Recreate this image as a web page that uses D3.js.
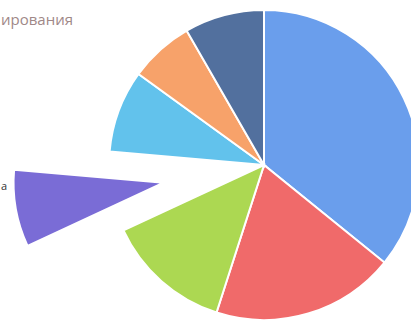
<!DOCTYPE html>
<html><head><meta charset="utf-8">
<script src="https://cdn.jsdelivr.net/npm/d3@7"></script>
<style>html,body{margin:0;padding:0;background:#fff;overflow:hidden}</style>
</head><body>
<svg id="c" width="411" height="322"></svg>
<script>
const categories = ["A","B","C","D","E","F","G"];
const values = [35.8, 19.1, 13.1, 8.3, 8.6, 6.7, 8.3];
const colors = ["#6a9eec","#f06a6a","#acd852","#7a6cd6","#62c2ec","#f7a26a","#52709e"];
const exploded = [0,0,0,1,0,0,0];
const titleText = "ирования";
const sliceLabel = "а";

const svg = d3.select("#c");
const cx = 264, cy = 165, r = 155;
const pie = d3.pie().sort(null).value(d => d)(values);
const arc = d3.arc().innerRadius(0).outerRadius(r);
const arcEx = d3.arc().innerRadius(0).outerRadius(150);

const g = svg.append("g").attr("transform", `translate(${cx},${cy})`);
g.selectAll("path").data(pie).join("path")
  .attr("d", (d,i) => exploded[i] ? arcEx(d) : arc(d))
  .attr("transform", (d,i) => {
    if (!exploded[i]) return null;
    const a = (d.startAngle + d.endAngle) / 2, off = 102;
    return `translate(${Math.sin(a)*off},${-Math.cos(a)*off})`;
  })
  .attr("fill", (d,i) => colors[i])
  .attr("stroke", "#fff").attr("stroke-width", 2);

svg.append("text").attr("x", 1).attr("y", 25)
  .attr("font-family","Open Sans, sans-serif").attr("font-size", 15)
  .attr("fill","#a08888").text(titleText);
svg.append("text").attr("x", 1).attr("y", 190)
  .attr("font-family","Open Sans, sans-serif").attr("font-size", 11)
  .attr("fill","#333").text(sliceLabel);
</script>
</body></html>
